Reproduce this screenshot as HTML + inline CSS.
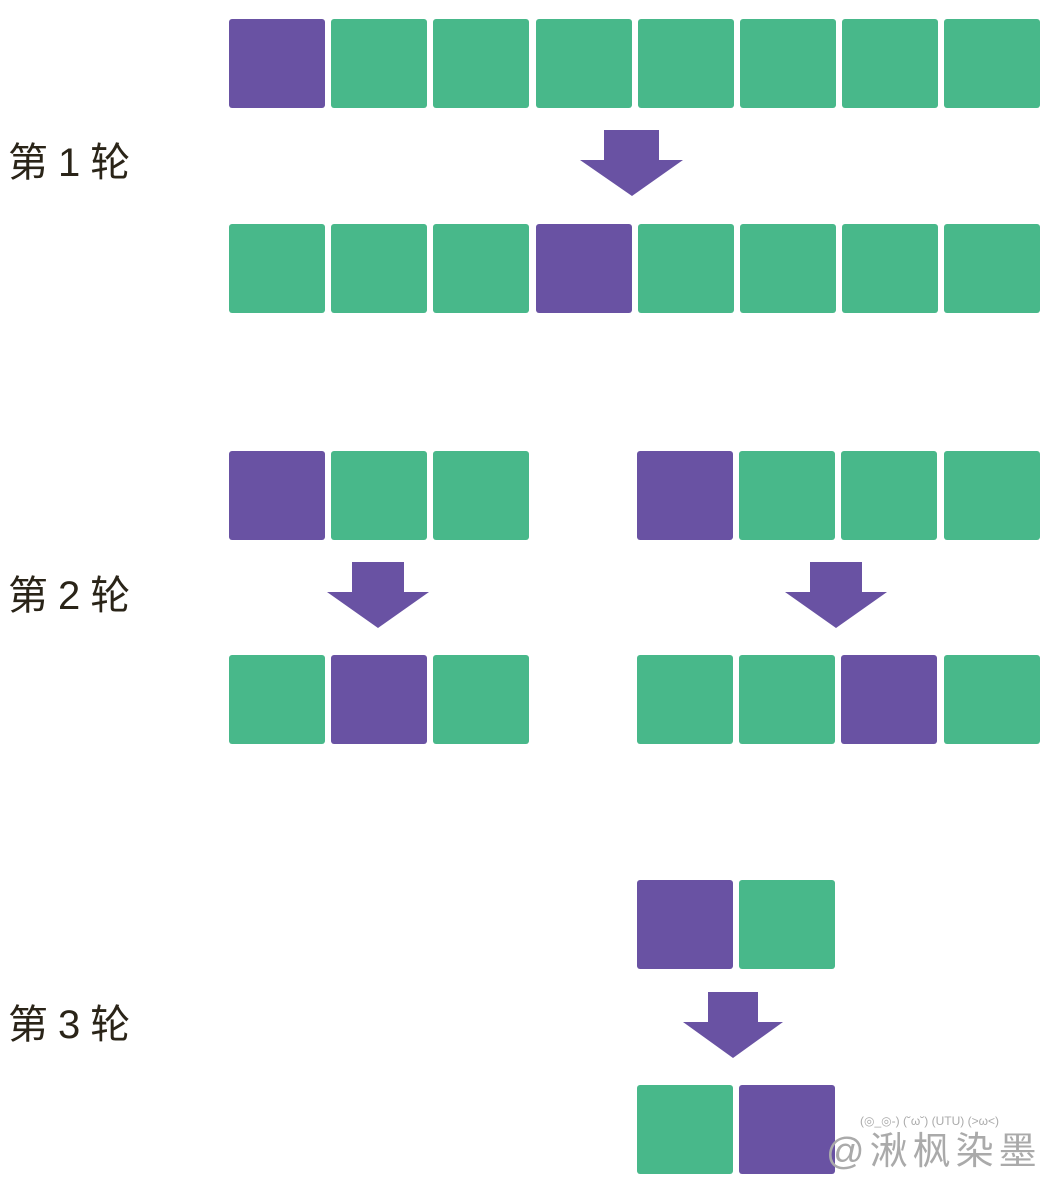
<!DOCTYPE html><html><head><meta charset="utf-8"><style>
body{margin:0;width:1053px;height:1186px;background:#fff;position:relative;overflow:hidden;font-family:"Liberation Sans","Noto Sans CJK SC",sans-serif}
.s{position:absolute;width:96px;height:89px;border-radius:3px;background:#48b88a}
.p{background:#6952a3}
.l{position:absolute;left:8px;font-size:40px;color:#2a2418;line-height:1;letter-spacing:10px}
</style></head><body>
<div id="c"></div>
<div class="l" style="top:143px">第1轮</div>
<div class="l" style="top:576px">第2轮</div>
<div class="l" style="top:1005px">第3轮</div>
<svg width="1053" height="1186" style="position:absolute;left:0;top:0">
<g fill="#6952a3">
<polygon points="604,130 659,130 659,160 683,160 632,196 580,160 604,160"/>
<polygon points="352,562 404,562 404,592 429,592 378,628 327,592 352,592"/>
<polygon points="810,562 862,562 862,592 887,592 836,628 785,592 810,592"/>
<polygon points="708,992 758,992 758,1022 783,1022 733,1058 683,1022 708,1022"/>
</g>
<text x="860" y="1125" font-size="12" fill="#aaa" font-family="Liberation Sans">(◎_◎-) (˘ω˘) (UTU) (&gt;ω&lt;)</text>
<text x="826" y="1164" font-size="38" fill="#aaa" letter-spacing="5" font-family="Liberation Sans,Noto Sans CJK SC,sans-serif">@湫枫染墨</text>
</svg>
<script>
var rows=[[19,229,8,0],[224,229,8,3],[451,229,3,0],[451,637,4,0],[655,229,3,1],[655,637,4,2],[880,637,2,0],[1085,637,2,1]];
var h='';rows.forEach(function(r){for(var i=0;i<r[2];i++){h+='<div class="s'+(i==r[3]?' p':'')+'" style="top:'+r[0]+'px;left:'+(r[1]+i*102.2)+'px"></div>';}});
document.getElementById('c').innerHTML=h;
</script>
</body></html>
